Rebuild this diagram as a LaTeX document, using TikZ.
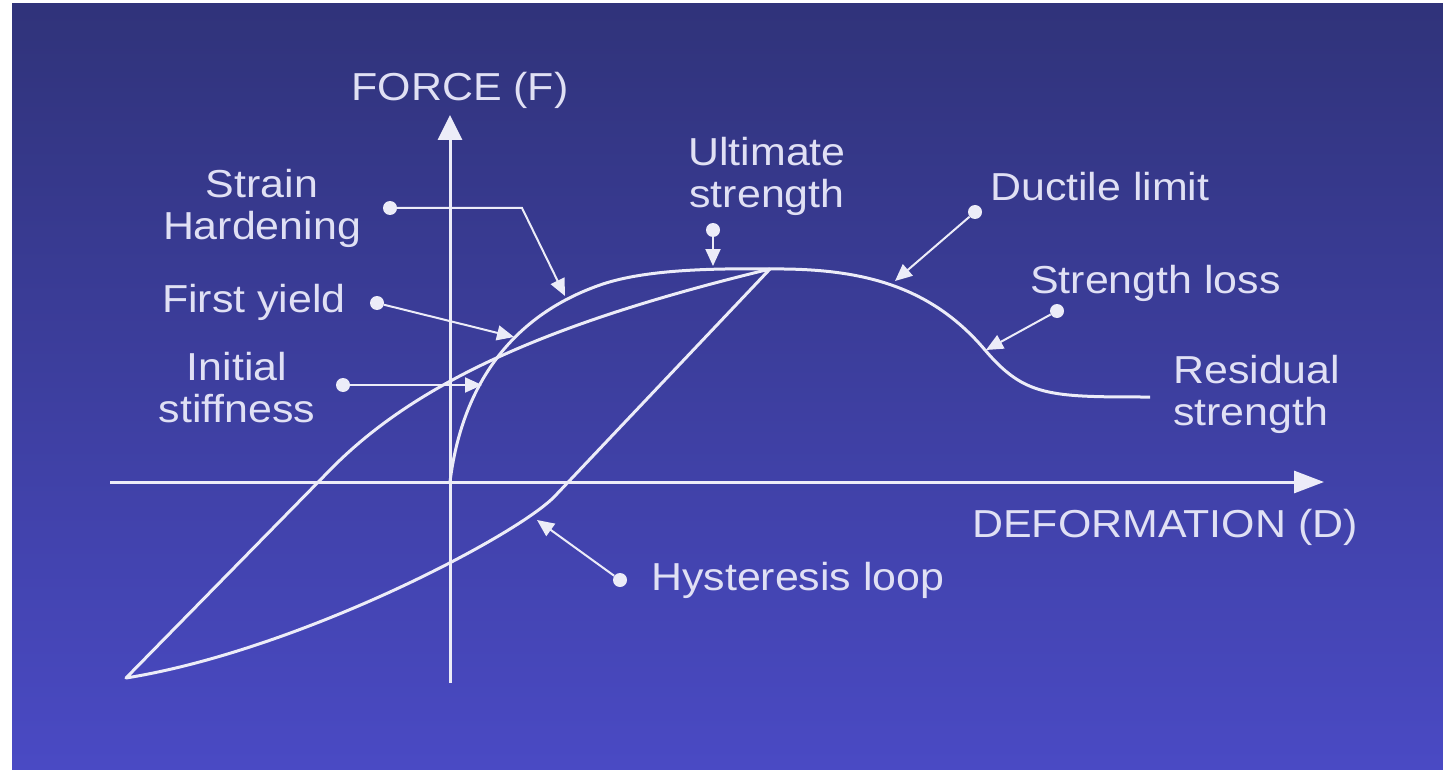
\documentclass[tikz,border=0pt]{standalone}
\usepackage{fontspec}
\setmainfont[FakeStretch=1.1]{Liberation Sans}
\usetikzlibrary{arrows.meta}
\definecolor{figbgtop}{HTML}{30337A}
\definecolor{figbgbot}{HTML}{4A4AC4}
\definecolor{figline}{HTML}{ECECF8}
\definecolor{figtext}{HTML}{E0E0F4}
\tikzset{
  axisline/.style={figline, line width=3pt},
  curveline/.style={figline, line width=3pt, line join=round},
  leader/.style={figline, line width=2pt, -{Triangle[length=17pt,width=15pt]}},
  leaddot/.style={circle, fill=figline, inner sep=0pt, minimum size=14pt},
  lbl/.style={text=figtext, inner sep=0pt, font=\fontsize{39}{42}\selectfont},
}
\begin{document}
\begin{tikzpicture}[x=1pt,y=-1pt]
\fill[white] (0,0) rectangle (1443,770);
\shade[top color=figbgtop,bottom color=figbgbot] (12,4) rectangle (1443,770);
\coordinate (o) at (450,482);
\coordinate (ytop) at (450,115);
\coordinate (ybot) at (450,683);
\coordinate (xl) at (110,482);
\coordinate (xr) at (1324,482);
\draw[axisline,-{Triangle[length=25pt,width=24pt]}] (ybot) -- (ytop);
\draw[axisline,-{Triangle[length=30pt,width=22pt]}] (xl) -- (xr);
\node[lbl] (force) at (460,90) {FORCE (F)};
\node[lbl] (deform) at (1165,527) {DEFORMATION (D)};
\coordinate (peak) at (770,269);
\coordinate (hbl) at (126,678);
\draw[curveline] (o) .. controls (460,400) and (500,320) .. (600,285)
  .. controls (640,271) and (700,268) .. (peak)
  .. controls (860,268) and (930,285) .. (985,350)
  .. controls (1025,397) and (1050,397) .. (1150,397);
\draw[curveline] (peak) -- (555,496) .. controls (518,535) and (300,650) .. (hbl)
  -- (330,470) .. controls (420,378) and (560,320) .. (peak);
\node[lbl,align=center] (strain) at (262,208) {Strain\\Hardening};
\node[lbl,anchor=west] (yield) at (162,302) {First yield};
\node[lbl,align=center] (stiff) at (237,388) {Initial\\stiffness};
\node[lbl,align=center] (ultim) at (767,176) {Ultimate\\strength};
\node[lbl,anchor=west] (ductile) at (990,187) {Ductile limit};
\node[lbl,anchor=west] (loss) at (1030,283) {Strength loss};
\node[lbl,align=left,anchor=west] (resid) at (1173,394) {Residual\\strength};
\node[lbl,anchor=west] (hyst) at (651,580) {Hysteresis loop};
\node[leaddot] (shdot) at (390,208) {};
\node[leaddot] (fydot) at (377,303) {};
\node[leaddot] (isdot) at (343,385) {};
\node[leaddot] (usdot) at (713,230) {};
\node[leaddot] (dldot) at (975,212) {};
\node[leaddot] (sldot) at (1057,311) {};
\node[leaddot] (hldot) at (620,580) {};
\coordinate (shbend) at (522,208);
\coordinate (shtip) at (565,296);
\coordinate (fytip) at (514,337);
\coordinate (istip) at (482,385);
\coordinate (ustip) at (713,266);
\coordinate (dltip) at (895,281);
\coordinate (sltip) at (986,350);
\coordinate (hltip) at (537,520);
\draw[leader] (shdot) -- (shbend) -- (shtip);
\draw[leader] (fydot) -- (fytip);
\draw[leader] (isdot) -- (istip);
\draw[leader] (usdot) -- (ustip);
\draw[leader] (dldot) -- (dltip);
\draw[leader] (sldot) -- (sltip);
\draw[leader] (hldot) -- (hltip);
\end{tikzpicture}
\end{document}
